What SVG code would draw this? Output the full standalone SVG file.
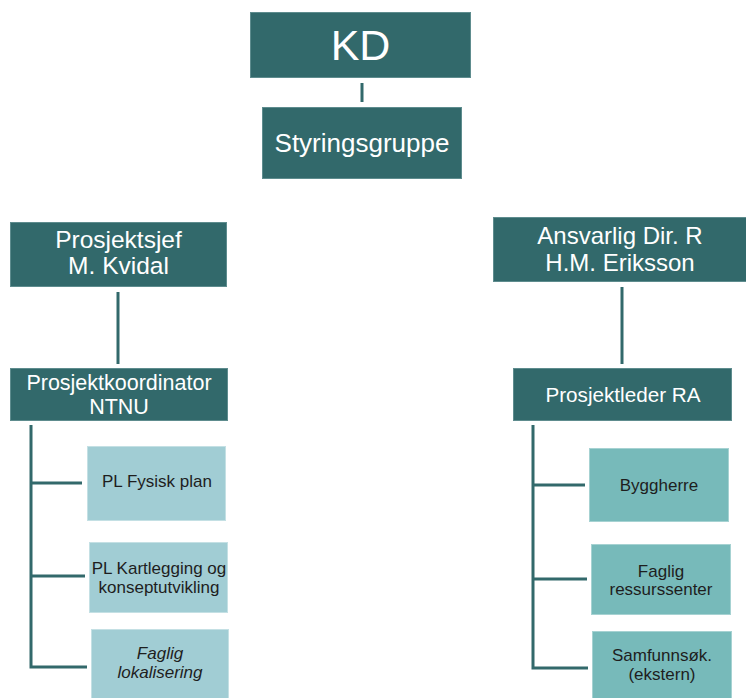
<svg xmlns="http://www.w3.org/2000/svg" width="746" height="698" viewBox="0 0 746 698">
<style>
.dark{fill:#32696B;stroke:#5E8C8E;stroke-width:1}
.lt1{fill:#A1CDD4;stroke:#C4E0E4;stroke-width:1}
.lt2{fill:#77BABA;stroke:#A6D2D2;stroke-width:1}
.w{fill:#FFFFFF;font-family:"Liberation Sans",Arial,sans-serif;text-anchor:middle}
.k{fill:#1E1E1E;font-family:"Liberation Sans",Arial,sans-serif;text-anchor:middle;font-size:17px}
.c{stroke:#32696B;stroke-width:3;fill:none}
</style>
<rect width="746" height="698" fill="#FFFFFF"/>
<g id="connectors">
<path class="c" d="M362 83V102"/>
<path class="c" d="M118 292V364"/>
<path class="c" d="M622 287V364"/>
<path class="c" d="M31 425V667H87M31 483H82M31 576H85"/>
<path class="c" d="M533 425V668H588M533 485H585M533 579H587"/>
</g>
<g id="kd"><rect class="dark" x="250.5" y="12.5" width="220" height="65"/><text class="w" x="360.5" y="60" font-size="43">KD</text></g>
<g id="styringsgruppe"><rect class="dark" x="262.5" y="107.5" width="199" height="71"/><text class="w" x="362" y="152" font-size="26">Styringsgruppe</text></g>
<g id="prosjektsjef"><rect class="dark" x="10.5" y="222.5" width="216" height="64"/><text class="w" x="118.5" y="248" font-size="24.5">Prosjektsjef</text><text class="w" x="118.5" y="274" font-size="24.5">M. Kvidal</text></g>
<g id="ansvarlig"><rect class="dark" x="493.5" y="217.5" width="253" height="64"/><text class="w" x="620" y="244" font-size="24">Ansvarlig Dir. R</text><text class="w" x="620" y="271" font-size="24">H.M. Eriksson</text></g>
<g id="koordinator"><rect class="dark" x="10.5" y="368.5" width="217" height="52"/><text class="w" x="119" y="390" font-size="21.5">Prosjektkoordinator</text><text class="w" x="119" y="414" font-size="21.5">NTNU</text></g>
<g id="prosjektleder"><rect class="dark" x="513.5" y="368.5" width="218" height="52"/><text class="w" x="623" y="402" font-size="20.7">Prosjektleder RA</text></g>
<g id="fysisk"><rect class="lt1" x="87.5" y="446.5" width="138" height="74"/><text class="k" x="157" y="487">PL Fysisk plan</text></g>
<g id="kartlegging"><rect class="lt1" x="89.5" y="542.5" width="138" height="70"/><text class="k" x="159" y="574">PL Kartlegging og</text><text class="k" x="159" y="593">konseptutvikling</text></g>
<g id="lokalisering"><rect class="lt1" x="91.5" y="629.5" width="137" height="69"/><text class="k" x="160" y="659" font-style="italic">Faglig</text><text class="k" x="160" y="678" font-style="italic">lokalisering</text></g>
<g id="byggherre"><rect class="lt2" x="589.5" y="448.5" width="139" height="73"/><text class="k" x="659" y="491">Byggherre</text></g>
<g id="ressurssenter"><rect class="lt2" x="591.5" y="544.5" width="139" height="70"/><text class="k" x="661" y="577">Faglig</text><text class="k" x="661" y="595">ressurssenter</text></g>
<g id="samfunnsok"><rect class="lt2" x="592.5" y="631.5" width="139" height="67"/><text class="k" x="662" y="661">Samfunnsøk.</text><text class="k" x="662" y="680">(ekstern)</text></g>
</svg>
